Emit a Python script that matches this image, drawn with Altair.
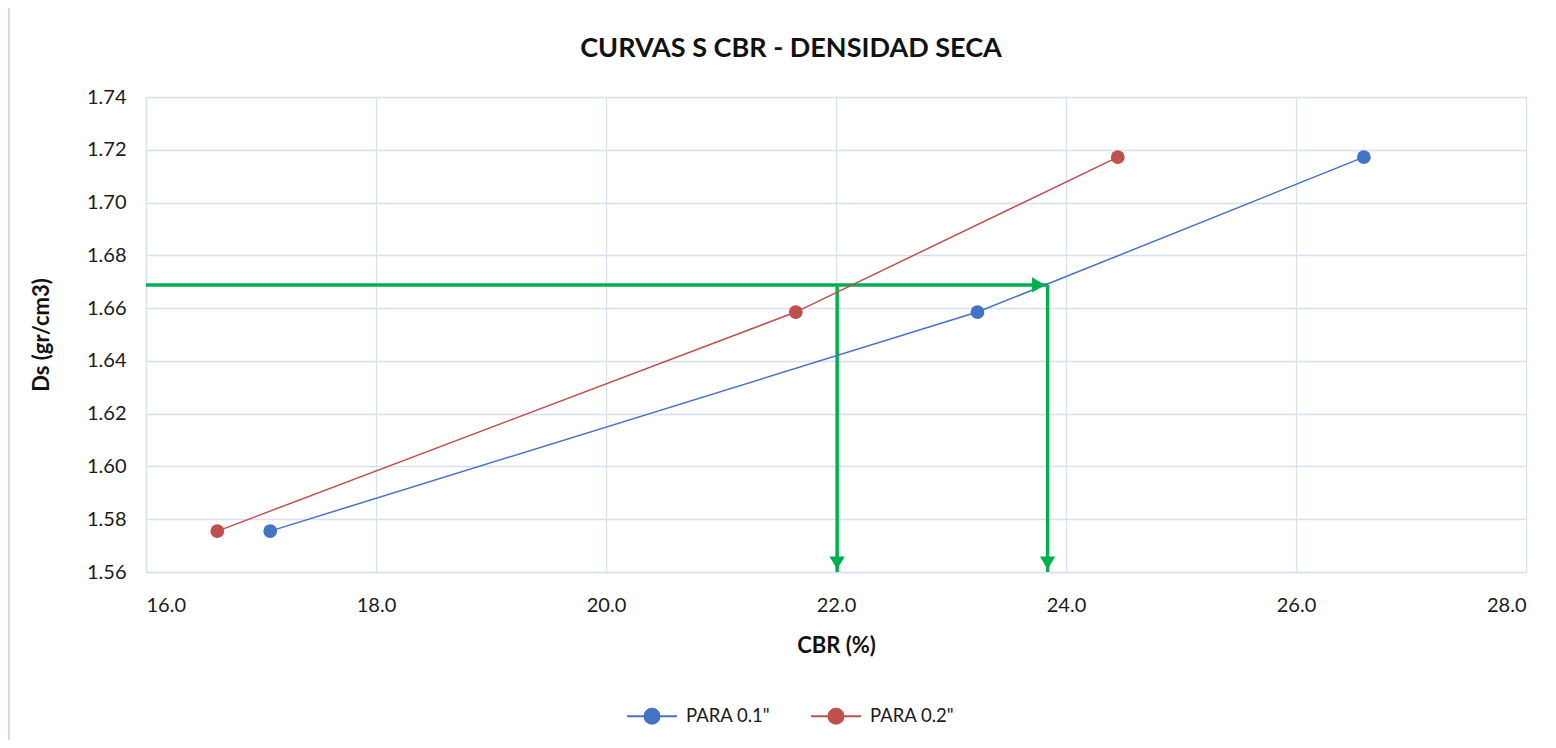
import altair as alt
import pandas as pd

# data
series_names = ['PARA 0.1"', 'PARA 0.2"']
cbr_01 = [17.08, 23.23, 26.59]
cbr_02 = [16.62, 21.65, 24.45]
ds_vals = [1.5755, 1.6585, 1.7172]

ds_target = 1.6688
cbr_target_01 = 23.84
cbr_target_02 = 22.01
x_min = 16.0

x_ticks = [16, 18, 20, 22, 24, 26, 28]
y_ticks = [1.56, 1.58, 1.60, 1.62, 1.64, 1.66, 1.68, 1.70, 1.72, 1.74]

rows = []
for i in range(3):
    rows.append({"serie": series_names[0], "cbr": cbr_01[i], "ds": ds_vals[i], "o": i})
    rows.append({"serie": series_names[1], "cbr": cbr_02[i], "ds": ds_vals[i], "o": i})
df = pd.DataFrame(rows)

arrows_df = pd.DataFrame([
    {"seg": "h", "x": x_min, "y": ds_target, "x2": cbr_target_01, "y2": ds_target},
    {"seg": "v1", "x": cbr_target_02, "y": ds_target, "x2": cbr_target_02, "y2": 1.56},
    {"seg": "v2", "x": cbr_target_01, "y": ds_target, "x2": cbr_target_01, "y2": 1.56},
])
heads_down = pd.DataFrame({"x": [cbr_target_02, cbr_target_01], "y": [1.56, 1.56]})
heads_right = pd.DataFrame({"x": [cbr_target_01], "y": [ds_target]})

FONT = "Lato"
GRID = "#D6E0F0"
GREEN = "#00B050"

xs = alt.Scale(domain=[16, 28], nice=False, zero=False)
ys = alt.Scale(domain=[1.56, 1.74], nice=False, zero=False)
color = alt.Scale(domain=series_names, range=["#4472C4", "#C0504D"])

legend_path = ("M-1,0 L-0.3,0 M0.3,0 L1,0 "
               "M0.3,0 A0.3,0.3 0 1,1 -0.3,0 A0.3,0.3 0 1,1 0.3,0 Z")

base = alt.Chart(df)

lines = base.mark_line(strokeWidth=1.5).encode(
    x=alt.X("cbr:Q", scale=xs,
            axis=alt.Axis(title="CBR (%)", values=x_ticks, format=".1f",
                          grid=True, gridColor=GRID, gridWidth=1.3,
                          domainColor=GRID, domainWidth=1.3, ticks=False,
                          labelFont=FONT, labelFontSize=20, labelColor="#1a1a1a", labelPadding=23,
                          titleFont=FONT, titleFontSize=22, titleFontWeight="bold",
                          titleColor="#111111", titlePadding=20)),
    y=alt.Y("ds:Q", scale=ys,
            axis=alt.Axis(title="Ds (gr/cm3)", values=y_ticks,
                          format=".2f", grid=True, gridColor=GRID, gridWidth=1.3,
                          domainColor=GRID, domainWidth=1.3, ticks=False,
                          labelFont=FONT, labelFontSize=20, labelColor="#1a1a1a", labelPadding=20,
                          titleFont=FONT, titleFontSize=22, titleFontWeight="bold",
                          titleColor="#111111", titlePadding=33)),
    color=alt.Color("serie:N", scale=color, sort=series_names,
                    legend=alt.Legend(title=None, orient="none", direction="horizontal",
                                      legendX=480, legendY=593,
                                      symbolType=legend_path, symbolSize=2500,
                                      symbolStrokeWidth=2, symbolFillColor=None,
                                      labelFont=FONT, labelFontSize=18.5, labelColor="#1a1a1a",
                                      columnPadding=36, labelOffset=8)),
    order="o:Q",
)

points = base.mark_circle(size=190, opacity=1).encode(
    x=alt.X("cbr:Q", scale=xs),
    y=alt.Y("ds:Q", scale=ys),
    color=alt.Color("serie:N", scale=color, legend=None),
)

arrows = alt.Chart(arrows_df).mark_rule(color=GREEN, strokeWidth=3.5).encode(
    x=alt.X("x:Q", scale=xs), y=alt.Y("y:Q", scale=ys),
    x2="x2:Q", y2="y2:Q",
)

hd = alt.Chart(heads_down).mark_point(shape="triangle-down", filled=True, color=GREEN,
                                      opacity=1, size=230, yOffset=-9).encode(
    x=alt.X("x:Q", scale=xs), y=alt.Y("y:Q", scale=ys))

hr = alt.Chart(heads_right).mark_point(shape="triangle-right", filled=True, color=GREEN,
                                       opacity=1, size=230, xOffset=-9).encode(
    x=alt.X("x:Q", scale=xs), y=alt.Y("y:Q", scale=ys))

border = alt.Chart(pd.DataFrame({"a": [0]})).mark_rule(color="#D0DCEE", strokeWidth=2, clip=False).encode(
    x=alt.value(-137), y=alt.value(-89), y2=alt.value(643))

chart = alt.layer(border, arrows, lines, points, hd, hr).properties(
    width=1380, height=475,
    padding={"left": 138, "top": 89, "right": 22, "bottom": 168},
    autosize=alt.AutoSizeParams(type="none"),
    title=alt.TitleParams("CURVAS S CBR - DENSIDAD SECA", font=FONT, fontSize=27,
                          fontWeight="bold", color="#111111", anchor="middle",
                          frame="group", dx=-45, offset=-56),
).configure_view(stroke=None).configure(background="white")

chart.save("out.html", embed_options={"renderer": "svg", "actions": False})
